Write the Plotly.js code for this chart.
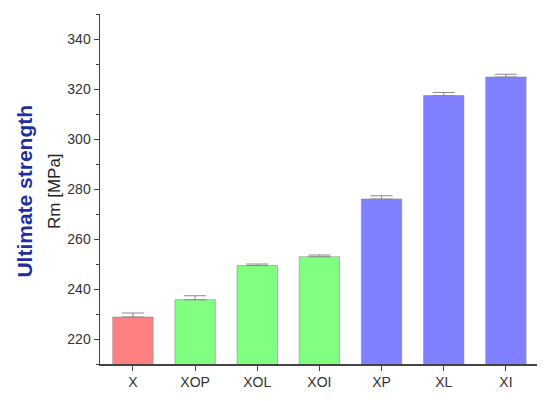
<!DOCTYPE html>
<html>
<head>
<meta charset="utf-8">
<script src="https://cdn.plot.ly/plotly-3.0.1.min.js"></script>
<style>
  html, body { margin: 0; padding: 0; background: #fff; }
  #chart { width: 550px; height: 401px; }
</style>
</head>
<body>
<div id="chart"></div>
<script>
// サンプル名と引張強さ (MPa)
const samples = ['X', 'XOP', 'XOL', 'XOI', 'XP', 'XL', 'XI'];
const rmValues = [228.8, 235.7, 249.4, 252.9, 276.0, 317.4, 324.8];
const rmErrors = [1.6, 1.6, 0.6, 0.7, 1.3, 1.2, 1.1];
const barColors = ['#ff8080', '#80ff80', '#80ff80', '#80ff80', '#8080ff', '#8080ff', '#8080ff'];
const yTicks = [220, 240, 260, 280, 300, 320, 340];

const trace = {
  type: 'bar',
  x: samples,
  y: rmValues,
  width: 0.65,
  marker: {
    color: barColors,
    line: { color: 'rgba(140,140,140,0.6)', width: 1 }
  },
  error_y: {
    type: 'data',
    array: rmErrors,
    symmetric: false,
    arrayminus: rmErrors.map(() => 0),
    color: '#8a8a8a',
    thickness: 1,
    width: 11
  },
  hoverinfo: 'x+y'
};

const layout = {
  width: 550,
  height: 401,
  margin: { l: 100, r: 13, t: 14, b: 37 },
  paper_bgcolor: '#fff',
  plot_bgcolor: '#fff',
  showlegend: false,
  font: { family: 'Liberation Sans, Arial, sans-serif', size: 14, color: '#333' },
  xaxis: {
    type: 'category',
    range: [-0.53, 6.5],
    showline: true,
    linecolor: '#444',
    linewidth: 1.5,
    ticks: 'outside',
    ticklen: 5,
    tickcolor: '#444',
    showgrid: false,
    zeroline: false,
    tickfont: { size: 14, color: '#333' }
  },
  yaxis: {
    range: [210, 350],
    tickvals: yTicks,
    showline: true,
    linecolor: '#444',
    linewidth: 1.5,
    ticks: 'outside',
    ticklen: 5,
    tickcolor: '#444',
    minor: { dtick: 10, ticks: 'outside', ticklen: 3, tickcolor: '#444' },
    showgrid: false,
    zeroline: false,
    tickfont: { size: 14, color: '#333' }
  },
  annotations: [
    {
      text: '<b>Ultimate strength</b>',
      xref: 'paper', yref: 'paper',
      x: -0.172, y: 0.495,
      xanchor: 'center', yanchor: 'middle',
      textangle: -90,
      showarrow: false,
      font: { size: 21, color: '#1f2f9f' }
    },
    {
      text: 'Rm [MPa]',
      xref: 'paper', yref: 'paper',
      x: -0.104, y: 0.493,
      xanchor: 'center', yanchor: 'middle',
      textangle: -90,
      showarrow: false,
      font: { size: 17, color: '#222' }
    }
  ]
};

Plotly.newPlot('chart', [trace], layout, { displayModeBar: false, staticPlot: true });
</script>
</body>
</html>
